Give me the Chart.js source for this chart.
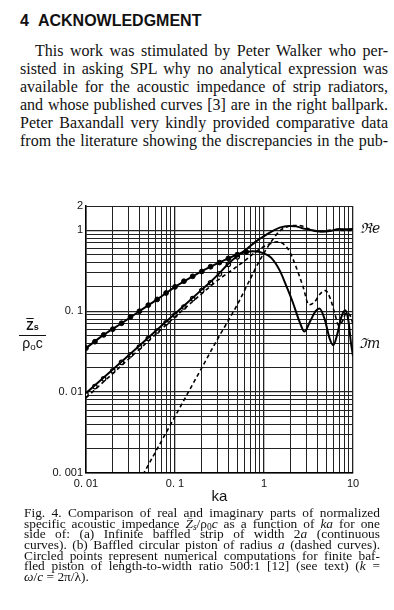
<!DOCTYPE html>
<html><head><meta charset="utf-8">
<script src="https://cdn.jsdelivr.net/npm/chart.js@4.4.0/dist/chart.umd.min.js"></script>
<style>
html,body{margin:0;padding:0;background:#fff;}
#page{position:relative;width:394px;height:610px;overflow:hidden;color:#111;}
#head{position:absolute;left:20px;top:13px;font-family:"Liberation Sans",Arial,sans-serif;font-weight:bold;font-size:16px;line-height:16px;white-space:nowrap;}
#body{position:absolute;left:20px;top:41.5px;width:368px;font-family:"Liberation Serif","Times New Roman",serif;font-size:16px;line-height:18.1px;}
#body div, #cap div{text-align:justify;text-align-last:justify;}
#body .ind{padding-left:15px;}
#cap{position:absolute;left:24px;top:508.3px;width:356px;font-family:"Liberation Serif","Times New Roman",serif;font-size:13.4px;line-height:10.6px;}
#cap .last{text-align:left;text-align-last:left;}
sub{font-size:0.7em;vertical-align:-0.25em;line-height:0;}
#chartwrap{position:absolute;left:0;top:190px;width:394px;height:320px;}
.lbl{position:absolute;font-family:"DejaVu Serif",serif;font-style:italic;font-size:14px;line-height:16px;}
#ylab{position:absolute;left:19px;top:320px;width:27px;text-align:center;font-family:"Liberation Sans",Arial,sans-serif;color:#111;}
</style></head>
<body><div id="page">
<div id="head">4<span style="margin-left:9px">ACKNOWLEDGMENT</span></div>
<div id="body">
<div class="ind">This work was stimulated by Peter Walker who per-</div>
<div>sisted in asking SPL why no analytical expression was</div>
<div>available for the acoustic impedance of strip radiators,</div>
<div>and whose published curves [3] are in the right ballpark.</div>
<div>Peter Baxandall very kindly provided comparative data</div>
<div>from the literature showing the discrepancies in the pub-</div>
</div>
<div id="chartwrap"><canvas id="c" width="394" height="320" style="width:394px;height:320px"></canvas></div>
<div class="lbl" style="left:360px;top:220px;">ℜe</div>
<div class="lbl" style="left:359px;top:335px;">ℑm</div>
<div id="ylab">
 <div style="font-size:12px;line-height:13px;font-weight:bold;"><span style="text-decoration:overline">Z</span><span style="font-size:9px">s</span></div>
 <div style="border-top:1.5px solid #111;margin-top:1px;"></div>
 <div style="font-size:14px;line-height:15px;">ρ<sub>o</sub>c</div>
</div>
<div id="cap">
<div>Fig. 4. Comparison of real and imaginary parts of normalized</div>
<div>specific acoustic impedance <i>Z̄<sub>s</sub></i>/ρ<sub>0</sub><i>c</i> as a function of <i>ka</i> for one</div>
<div>side of: (a) Infinite baffled strip of width 2<i>a</i> (continuous</div>
<div>curves). (b) Baffled circular piston of radius <i>a</i> (dashed curves).</div>
<div>Circled points represent numerical computations for finite baf-</div>
<div>fled piston of length-to-width ratio 500:1 [12] (see text) (<i>k</i> =</div>
<div class="last"><i>ω</i>/<i>c</i> = 2π/λ).</div>
</div>
</div>
<script>
// ---- tick labels ----
const xTickValues = [0.01, 0.1, 1, 10];
const xTickLabels = ['0. 01', '0. 1', '1', '10'];
const yTickValues = [0.001, 0.01, 0.1, 1, 2];
const yTickLabels = ['0. 001', '0. 01', '0. 1', '1', '2'];

// ---- (a) infinite baffled strip, real part (continuous) ----
const kaStripRe = [0.01, 0.02, 0.05, 0.1, 0.2, 0.25, 0.32, 0.4, 0.5, 0.63, 0.8, 1.0, 1.2, 1.5, 1.9, 2.3, 2.8, 3.5, 4.5, 5.5, 7, 8.5, 10];
const stripRe   = [0.0097, 0.019, 0.047, 0.093, 0.185, 0.23, 0.3, 0.39, 0.48, 0.58, 0.72, 0.85, 0.96, 1.08, 1.13, 1.12, 1.05, 1.0, 0.96, 0.98, 1.04, 1.03, 1.04];

// ---- (a) strip, imaginary part (continuous) ----
const kaStripIm = [0.01, 0.0158, 0.0251, 0.0398, 0.0631, 0.1, 0.158, 0.251, 0.398, 0.55, 0.75, 1.0, 1.2, 1.5, 1.8, 2.1, 2.5, 2.85, 3.3, 3.8, 4.2, 4.8, 5.5, 6.0, 6.6, 7.4, 8.2, 8.9, 9.5, 10];
const stripIm   = [0.035, 0.051, 0.071, 0.1, 0.14, 0.2, 0.27, 0.355, 0.45, 0.52, 0.55, 0.52, 0.46, 0.32, 0.2, 0.13, 0.075, 0.056, 0.075, 0.1, 0.108, 0.08, 0.045, 0.038, 0.05, 0.085, 0.103, 0.075, 0.04, 0.028];

// ---- (b) baffled circular piston, real part (dashed) ----
const kaPistonRe = [0.04, 0.1, 0.2, 0.3, 0.5, 0.7, 0.9, 1.2, 1.5, 1.8, 2.2, 2.6, 3.0, 3.5, 4.0, 5, 6, 7, 8, 10];
const pistonRe   = [0.0008, 0.005, 0.02, 0.045, 0.12, 0.25, 0.43, 0.72, 0.98, 1.1, 1.15, 1.14, 1.07, 1.0, 0.97, 0.99, 1.02, 1.0, 1.0, 1.0];

// ---- (b) piston, imaginary part (dashed) ----
const kaPistonIm = [0.01, 0.03, 0.1, 0.2, 0.3, 0.45, 0.64, 0.8, 1.0, 1.2, 1.4, 1.65, 1.95, 2.3, 2.75, 3.2, 3.7, 4.3, 4.9, 5.6, 6.3, 6.9, 7.6, 8.4, 9.2, 10];
const pistonIm   = [0.0085, 0.0255, 0.085, 0.165, 0.24, 0.33, 0.44, 0.54, 0.63, 0.69, 0.72, 0.68, 0.54, 0.35, 0.2, 0.12, 0.13, 0.165, 0.18, 0.14, 0.09, 0.067, 0.075, 0.095, 0.09, 0.07];

// ---- circled points: numerical computations, 500:1 piston ----
const kaCircIm = [0.01, 0.0126, 0.0158, 0.02, 0.0251, 0.0316, 0.0398, 0.0501, 0.0631, 0.0794, 0.1, 0.126, 0.158, 0.2, 0.251, 0.316, 0.398, 0.501, 0.631];
const circIm   = [0.035, 0.042, 0.051, 0.06, 0.071, 0.085, 0.1, 0.119, 0.14, 0.168, 0.2, 0.235, 0.27, 0.31, 0.355, 0.4, 0.45, 0.5, 0.54];
const kaCircRe = [0.01, 0.0126, 0.0158, 0.02, 0.0251, 0.0316, 0.0398, 0.0501, 0.0631, 0.0794, 0.1, 0.126, 0.158, 0.2, 0.251, 0.316, 0.398, 0.501];
const circRe   = [0.0094, 0.0117, 0.0146, 0.0184, 0.0233, 0.029, 0.036, 0.046, 0.057, 0.072, 0.09, 0.113, 0.143, 0.18, 0.225, 0.29, 0.38, 0.47];

const pts = (xs, ys) => xs.map((x, i) => ({x: x, y: ys[i]}));
function gridVals(min, max) {
  const out = [];
  for (let e = -3; e <= 1; e++) for (let s = 1; s <= 9; s++) {
    const v = +(s * Math.pow(10, e)).toPrecision(6);
    if (v >= min * 0.999 && v <= max * 1.001) out.push(v);
  }
  return out;
}
const isIn = (vals, v) => vals.findIndex(t => Math.abs(Math.log10(t) - Math.log10(v)) < 1e-6);
const lab = (vals, labels) => (v) => { const i = isIn(vals, v); return i >= 0 ? labels[i] : ''; };
const decadeW = (ctx) => { const v = ctx.tick && ctx.tick.value; return v && Math.abs(Math.log10(v) - Math.round(Math.log10(v))) < 1e-6 ? 1.3 : 1; };

const lineDs = (label, xs, ys, dash, w) => ({
  type: 'line', label, data: pts(xs, ys), borderColor: '#000', borderWidth: w,
  borderDash: dash, pointRadius: 0, fill: false, cubicInterpolationMode: 'monotone'
});

new Chart(document.getElementById('c'), {
  type: 'line',
  data: { datasets: [
    lineDs('Strip Re', kaStripRe, stripRe, [], 2),
    lineDs('Strip Im', kaStripIm, stripIm, [], 2),
    lineDs('Piston Re', kaPistonRe, pistonRe, [4, 3], 1.6),
    lineDs('Piston Im', kaPistonIm, pistonIm, [4, 3], 1.6),
    { type: 'scatter', label: 'Numerical Im', data: pts(kaCircIm, circIm), pointRadius: 2.4,
      pointBackgroundColor: '#000', pointBorderColor: '#000', pointBorderWidth: 1, showLine: false },
    { type: 'scatter', label: 'Numerical Re', data: pts(kaCircRe, circRe), pointRadius: 2.2,
      pointBackgroundColor: '#fff', pointBorderColor: '#000', pointBorderWidth: 1.2, showLine: false }
  ]},
  options: {
    responsive: false, animation: false, devicePixelRatio: 1,
    layout: { padding: { left: 0, right: 41, top: 16, bottom: 0 } },
    plugins: { legend: { display: false }, tooltip: { enabled: false } },
    scales: {
      x: {
        type: 'logarithmic', min: 0.01, max: 10, position: 'bottom',
        afterBuildTicks: s => { s.ticks = gridVals(0.01, 10).map(v => ({value: v})); },
        afterFit: s => { s.height = 37; },
        ticks: { autoSkip: false, maxRotation: 0, minRotation: 0, padding: 4, color: '#111',
                 font: { family: 'Liberation Sans', size: 11 }, callback: lab(xTickValues, xTickLabels) },
        grid: { color: '#222', lineWidth: decadeW, drawTicks: false },
        border: { display: true, color: '#000', width: 1.5 },
        title: { display: true, text: 'ka', color: '#111', font: { family: 'Liberation Sans', size: 15 }, padding: { top: 0, bottom: 4 } }
      },
      y: {
        type: 'logarithmic', min: 0.001, max: 2,
        afterBuildTicks: s => { s.ticks = gridVals(0.001, 2).map(v => ({value: v})); },
        afterFit: s => { s.width = 86; },
        ticks: { autoSkip: false, padding: 3, color: '#111',
                 font: { family: 'Liberation Sans', size: 11 }, callback: lab(yTickValues, yTickLabels) },
        grid: { color: '#222', lineWidth: decadeW, drawTicks: false },
        border: { display: true, color: '#000', width: 1.5 }
      }
    }
  }
});
</script>
</body></html>
